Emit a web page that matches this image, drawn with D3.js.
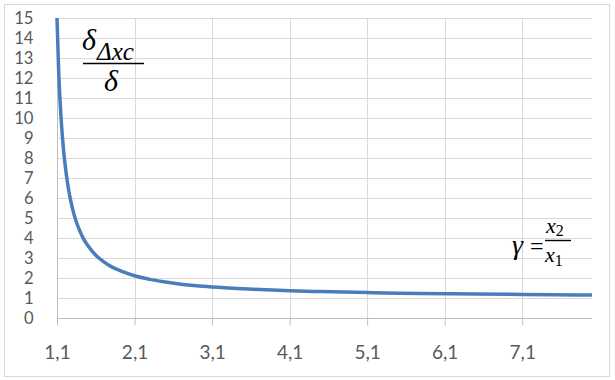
<!DOCTYPE html>
<html><head><meta charset="utf-8">
<script src="https://cdn.jsdelivr.net/npm/d3@7/dist/d3.min.js"></script>
<style>body{margin:0;background:#fff}svg{display:block}</style>
</head><body>
<svg id="c" width="615" height="380"></svg>
<script>
const gammaValues = [1.1,1.12,1.14,1.16,1.18,1.2,1.25,1.3,1.35,1.4,1.45,1.5,1.6,1.7,1.8,1.9,2.0,2.1,2.3,2.5,2.7,2.9,3.1,3.5,4.1,4.5,5.1,5.5,6.1,6.5,7.1,7.5,8.0];
const ratioValues = [15.0,12.51,10.83,9.57,8.59,7.81,6.40,5.47,4.80,4.30,3.91,3.61,3.14,2.82,2.57,2.39,2.24,2.11,1.93,1.80,1.69,1.61,1.55,1.46,1.36,1.32,1.27,1.24,1.21,1.20,1.18,1.16,1.15];
const xTicks = [1.1,2.1,3.1,4.1,5.1,6.1,7.1];
const yTicks = d3.range(0,16,1);
const xDomain = [1.1, 8.0];
const yDomain = [0, 15];

const svg = d3.select("#c");
svg.append("rect").attr("x",4.5).attr("y",4.5).attr("width",605).attr("height",372)
  .attr("fill","#fff").attr("stroke","#d9d9d9").attr("stroke-width",1);

const L=57, R=592, T=18, B=318;
const x = d3.scaleLinear().domain(xDomain).range([L,R]);
const y = d3.scaleLinear().domain(yDomain).range([B,T]);
const fmt = d => d3.format(".1f")(d).replace(".",",");
const tf = "Lato, 'Open Sans', sans-serif";

svg.append("g").selectAll("line").data(yTicks.filter(d=>d>0)).join("line")
  .attr("x1",L).attr("x2",R).attr("y1",d=>Math.round(y(d))+0.5).attr("y2",d=>Math.round(y(d))+0.5)
  .attr("stroke","#d9d9d9").attr("stroke-width",1);
svg.append("g").selectAll("line").data(xTicks.slice(1)).join("line")
  .attr("x1",d=>Math.round(x(d))+0.5).attr("x2",d=>Math.round(x(d))+0.5).attr("y1",T).attr("y2",B)
  .attr("stroke","#d9d9d9").attr("stroke-width",1);

const xAxis = d3.axisBottom(x).tickValues(xTicks).tickSize(7).tickPadding(20).tickFormat(fmt);
const gx = svg.append("g").attr("transform",`translate(0,${B+0.5})`).call(xAxis);
gx.select(".domain").attr("d",`M${L},0H${R}`).attr("stroke","#bfbfbf");
gx.selectAll(".tick line").attr("stroke","#bfbfbf");
gx.selectAll("text").attr("fill","#595959").style("font-family",tf).style("font-size","19px");

const yAxis = d3.axisLeft(y).tickValues(yTicks).tickSize(0).tickPadding(24).tickFormat(d3.format("d"));
const gy = svg.append("g").attr("transform",`translate(${L+0.5},0)`).call(yAxis);
gy.select(".domain").attr("d",`M0,${T}V${B}`).attr("stroke","#bfbfbf");
gy.selectAll("text").attr("fill","#595959").style("font-family",tf).style("font-size","16.6px");

const pts = gammaValues.map((g,i)=>[g,ratioValues[i]]);
svg.append("path").datum(pts)
  .attr("d", d3.line().x(d=>x(d[0])).y(d=>y(d[1])).curve(d3.curveMonotoneX))
  .attr("fill","none").attr("stroke","#4a7ebb").attr("stroke-width",3.5);

const mf = "'Liberation Serif', 'DejaVu Serif', serif";
const a1 = svg.append("g").style("font-family",mf).style("font-style","italic").attr("fill","#000");
a1.append("text").attr("x",82).attr("y",50).style("font-size","30px").text("δ");
a1.append("text").attr("x",97).attr("y",60).style("font-size","25px").text("Δxc");
a1.append("line").attr("x1",83).attr("x2",144).attr("y1",63.5).attr("y2",63.5).attr("stroke","#000").attr("stroke-width",1.6);
a1.append("text").attr("x",104).attr("y",91).style("font-size","30px").text("δ");

const a2 = svg.append("g").style("font-family",mf).attr("fill","#000");
a2.append("text").attr("x",512).attr("y",254).style("font-size","28px").style("font-style","italic").text("γ");
a2.append("text").attr("x",530).attr("y",254).style("font-size","24px").text("=");
const n = a2.append("text").attr("x",546).attr("y",233).style("font-size","22px");
n.append("tspan").style("font-style","italic").text("x");
n.append("tspan").attr("dy",3).style("font-size","16px").text("2");
a2.append("line").attr("x1",545).attr("x2",571).attr("y1",240.5).attr("y2",240.5).attr("stroke","#000").attr("stroke-width",1.4);
const dn = a2.append("text").attr("x",545).attr("y",262).style("font-size","22px");
dn.append("tspan").style("font-style","italic").text("x");
dn.append("tspan").attr("dy",4).style("font-size","16px").text("1");
</script>
</body></html>
